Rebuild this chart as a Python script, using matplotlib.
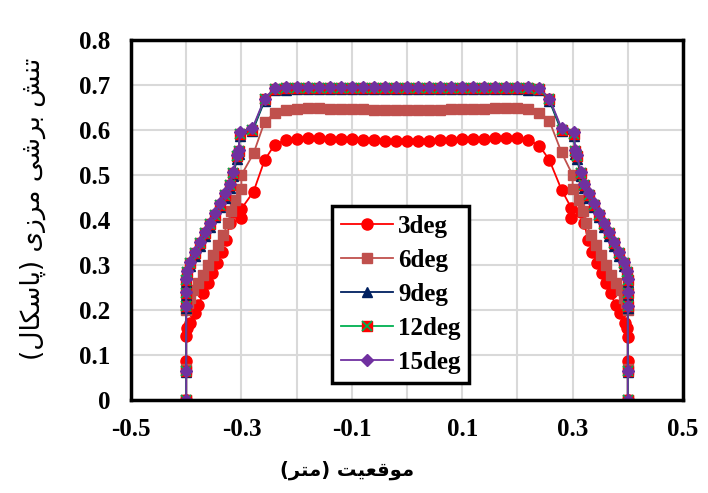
import matplotlib
matplotlib.use("Agg")
import matplotlib.pyplot as plt

# --- data ---
# 3deg
x3 = [-0.4, -0.4, -0.4, -0.398, -0.393, -0.384, -0.378, -0.369, -0.36, -0.354, -0.345, -0.336,
      -0.328, -0.321, -0.315, -0.3, -0.3, -0.278, -0.258, -0.24,
      -0.22, -0.2, -0.18, -0.16, -0.14, -0.12, -0.1, -0.08, -0.06, -0.04, -0.02, 0.0,
      0.02, 0.04, 0.06, 0.08, 0.1, 0.12, 0.14, 0.16, 0.18, 0.2, 0.22,
      0.24, 0.258, 0.28, 0.298, 0.298, 0.315, 0.321, 0.328, 0.336, 0.345, 0.354, 0.36,
      0.369, 0.378, 0.386, 0.395, 0.398, 0.4, 0.4, 0.4]
y3 = [0.0, 0.087, 0.142, 0.16, 0.172, 0.193, 0.211, 0.237, 0.26, 0.282, 0.304, 0.33,
      0.356, 0.393, 0.418, 0.405, 0.425, 0.463, 0.533, 0.567,
      0.578, 0.581, 0.582, 0.582, 0.581, 0.58, 0.579, 0.578, 0.577, 0.576, 0.576, 0.575,
      0.576, 0.576, 0.577, 0.578, 0.579, 0.58, 0.581, 0.582, 0.583, 0.582, 0.578,
      0.565, 0.533, 0.467, 0.426, 0.404, 0.418, 0.393, 0.356, 0.33, 0.304, 0.282, 0.26,
      0.237, 0.211, 0.193, 0.171, 0.16, 0.14, 0.087, 0.0]

# 6deg
x6 = [-0.4, -0.4, -0.4, -0.397, -0.393, -0.387, -0.378, -0.369, -0.36, -0.351, -0.342, -0.333,
      -0.324, -0.318, -0.312, -0.3, -0.3, -0.278, -0.258, -0.24,
      -0.22, -0.2, -0.18, -0.16, -0.14, -0.12, -0.1, -0.08, -0.06, -0.04, -0.02, 0.0,
      0.02, 0.04, 0.06, 0.08, 0.1, 0.12, 0.14, 0.16, 0.18, 0.2, 0.22,
      0.24, 0.258, 0.28, 0.3, 0.3, 0.312, 0.318, 0.324, 0.333, 0.342, 0.351, 0.36,
      0.369, 0.378, 0.387, 0.393, 0.397, 0.4, 0.4, 0.4]
y6 = [0.0, 0.07, 0.2, 0.215, 0.227, 0.244, 0.26, 0.278, 0.3, 0.322, 0.344, 0.367,
      0.393, 0.42, 0.445, 0.47, 0.5, 0.548, 0.618, 0.637,
      0.644, 0.647, 0.648, 0.648, 0.647, 0.647, 0.646, 0.646, 0.645, 0.645, 0.645, 0.645,
      0.645, 0.645, 0.645, 0.646, 0.646, 0.647, 0.647, 0.648, 0.649, 0.649, 0.646,
      0.638, 0.62, 0.55, 0.5, 0.47, 0.445, 0.42, 0.393, 0.367, 0.344, 0.322, 0.3,
      0.278, 0.26, 0.244, 0.227, 0.215, 0.2, 0.07, 0.0]

# 9deg, 12deg, 15deg share the same positions
xh = [-0.4, -0.4, -0.4, -0.4, -0.4, -0.398, -0.393, -0.384, -0.375, -0.366, -0.357, -0.348,
      -0.339, -0.33, -0.321, -0.315, -0.308, -0.305, -0.303, -0.28, -0.258,
      -0.24, -0.22, -0.2, -0.18, -0.16, -0.14, -0.12, -0.1, -0.08, -0.06, -0.04, -0.02, 0.0,
      0.02, 0.04, 0.06, 0.08, 0.1, 0.12, 0.14, 0.16, 0.18, 0.2, 0.22, 0.24,
      0.258, 0.28, 0.302, 0.305, 0.308, 0.315, 0.321, 0.33, 0.339, 0.348, 0.357, 0.366,
      0.375, 0.384, 0.393, 0.398, 0.4, 0.4, 0.4, 0.4, 0.4]
y9 = [0.0, 0.062, 0.204, 0.233, 0.262, 0.279, 0.298, 0.321, 0.343, 0.365, 0.385, 0.406,
      0.428, 0.45, 0.472, 0.498, 0.536, 0.547, 0.587, 0.597, 0.665,
      0.688, 0.69, 0.691, 0.691, 0.691, 0.691, 0.691, 0.691, 0.691, 0.691, 0.691, 0.691, 0.691,
      0.691, 0.691, 0.691, 0.691, 0.691, 0.691, 0.691, 0.691, 0.691, 0.691, 0.69, 0.688,
      0.665, 0.597, 0.587, 0.547, 0.536, 0.498, 0.472, 0.45, 0.428, 0.406, 0.385, 0.365,
      0.343, 0.321, 0.298, 0.279, 0.262, 0.233, 0.204, 0.062, 0.0]
y12 = [0.0, 0.064, 0.208, 0.238, 0.267, 0.284, 0.304, 0.327, 0.349, 0.371, 0.391, 0.412,
       0.434, 0.456, 0.478, 0.504, 0.542, 0.553, 0.592, 0.601, 0.668,
       0.691, 0.693, 0.694, 0.694, 0.694, 0.694, 0.694, 0.694, 0.694, 0.694, 0.694, 0.694, 0.694,
       0.694, 0.694, 0.694, 0.694, 0.694, 0.694, 0.694, 0.694, 0.694, 0.694, 0.693, 0.691,
       0.668, 0.601, 0.592, 0.553, 0.542, 0.504, 0.478, 0.456, 0.434, 0.412, 0.391, 0.371,
       0.349, 0.327, 0.304, 0.284, 0.267, 0.238, 0.208, 0.064, 0.0]
y15 = [0.0, 0.065, 0.21, 0.24, 0.27, 0.287, 0.307, 0.33, 0.352, 0.374, 0.394, 0.415,
       0.437, 0.459, 0.481, 0.507, 0.545, 0.556, 0.595, 0.604, 0.67,
       0.693, 0.695, 0.696, 0.696, 0.696, 0.696, 0.696, 0.696, 0.696, 0.696, 0.696, 0.696, 0.696,
       0.696, 0.696, 0.696, 0.696, 0.696, 0.696, 0.696, 0.696, 0.696, 0.696, 0.695, 0.693,
       0.67, 0.604, 0.595, 0.556, 0.545, 0.507, 0.481, 0.459, 0.437, 0.415, 0.394, 0.374,
       0.352, 0.33, 0.307, 0.287, 0.27, 0.24, 0.21, 0.065, 0.0]

xticks = [-0.5, -0.3, -0.1, 0.1, 0.3, 0.5]
yticks = [0, 0.1, 0.2, 0.3, 0.4, 0.5, 0.6, 0.7, 0.8]


def visual(s):
    # text is already in presentation forms; flip to left-to-right order
    s = s[::-1]
    return s.replace("(", "\0").replace(")", "(").replace("\0", ")")


# تنش برشی مرزی (پاسکال)
ylab = visual("\uFE97\uFEE8\uFEB6 \uFE91\uFEAE\uFEB7\uFEF0 \uFEE3\uFEAE\uFEAF\uFEEF "
              "(\uFB58\uFE8E\uFEB3\uFB91\uFE8E\uFEDD)")
# موقعیت (متر)
xlab = visual("\uFEE3\uFEEE\uFED7\uFECC\uFEF4\uFE96 (\uFEE3\uFE98\uFEAE)")

fig = plt.figure(figsize=(7.08, 4.93), dpi=100)
ax = fig.add_axes([131 / 708, 93 / 493, 552 / 708, 360 / 493])

l3, = ax.plot(x3, y3, color="#FF0000", lw=1.3, marker="o", ms=8, label="3deg")
l6, = ax.plot(x6, y6, color="#C0504D", lw=1.3, marker="s", ms=7.5, label="6deg")
l9, = ax.plot(xh, y9, color="#002060", lw=1.3, marker="^", ms=7.5, label="9deg")
l12, = ax.plot(xh, y12, color="#00B050", lw=1.3, marker="s", ms=7.5,
               mfc="#FF0000", mec="#FF0000")
l12x, = ax.plot(xh, y12, ls="none", marker="x", ms=6.5, mew=1.3, color="#00B050")
l15, = ax.plot(xh, y15, color="#7030A0", lw=1.3, marker="D", ms=6.2, label="15deg")

ax.set_xlim(-0.5, 0.5)
ax.set_ylim(0, 0.8)
ax.set_xticks(xticks)
ax.set_xticklabels([f"{v:.1f}" for v in xticks])
ax.set_yticks(yticks)
ax.set_yticklabels(["0"] + [f"{v:.1f}" for v in yticks[1:]])
ax.set_xticks([-0.4, -0.2, 0.0, 0.2, 0.4], minor=True)
ax.grid(True, which="both", axis="x", color="#D9D9D9", lw=1.5)
ax.grid(True, axis="y", color="#D9D9D9", lw=1.5)
ax.set_axisbelow(True)
ax.tick_params(axis="both", which="both", length=0)
ax.tick_params(axis="y", pad=15)
ax.tick_params(axis="x", pad=13)
for lab in ax.get_xticklabels() + ax.get_yticklabels():
    lab.set_fontfamily("Liberation Serif")
    lab.set_fontweight("bold")
    lab.set_fontsize(18)
for sp in ax.spines.values():
    sp.set_linewidth(2.5)
    sp.set_color("black")

leg = ax.legend([l3, l6, l9, (l12, l12x), l15], ["3deg", "6deg", "9deg", "12deg", "15deg"],
                loc="upper left", bbox_to_anchor=(0.364, 0.538), fancybox=False,
                framealpha=1, edgecolor="black", handlelength=2.1, labelspacing=0.44,
                handletextpad=0.2, borderpad=0.35, borderaxespad=0,
                prop={"family": "Liberation Serif", "weight": "bold", "size": 18})
leg.get_frame().set_linewidth(2.5)

fig.text(33 / 708, 1 - 209 / 493, ylab, rotation=90, ha="center", va="center",
         family="DejaVu Sans", fontsize=19)
fig.text(347 / 708, 1 - 470 / 493, xlab, ha="center", va="center",
         family="DejaVu Sans", fontweight="bold", fontsize=14)

fig.savefig("out.png", dpi=100)
